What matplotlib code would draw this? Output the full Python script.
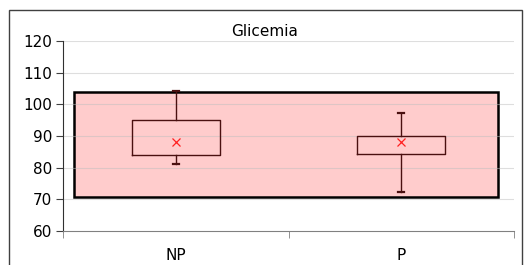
import matplotlib
matplotlib.use("Agg")
import matplotlib.pyplot as plt
from matplotlib.patches import Rectangle

categories = ["NP", "P"]
q1 = [84.0, 84.4]
q3 = [95.1, 90.0]
whislo = [81.1, 72.3]
whishi = [104.3, 97.2]
means = [88.2, 88.0]
ref_low = 70.6
ref_high = 104.0
yticks = [60, 70, 80, 90, 100, 110, 120]

plt.rcParams['font.family'] = ['DejaVu Sans']

fig = plt.figure(figsize=(5.24, 2.65), dpi=100)
ax = fig.add_axes([63/524, 34/265, 451/524, 190/265])

# outer chart border
fig.patches.append(Rectangle((9/524, -0.2), 513/524, 255/265 + 0.2,
                             transform=fig.transFigure, fill=False,
                             edgecolor='#404040', linewidth=1.0))

# reference range rectangle
ax.add_patch(Rectangle((-0.45, ref_low), 1.88, ref_high - ref_low,
                       facecolor='#ffcccc', edgecolor='black',
                       linewidth=1.8, zorder=1))

stats = []
for i, c in enumerate(categories):
    stats.append(dict(label=c, q1=q1[i], q3=q3[i], med=means[i],
                      whislo=whislo[i], whishi=whishi[i], mean=means[i],
                      fliers=[]))

box_col = '#4a1010'
ax.bxp(stats, positions=[0, 1], widths=0.39, showmeans=True,
       showfliers=False, patch_artist=False,
       boxprops=dict(color=box_col, linewidth=1.0),
       whiskerprops=dict(color=box_col, linewidth=1.0),
       capprops=dict(color=box_col, linewidth=1.6),
       capwidths=0.025,
       medianprops=dict(linewidth=0, color='none'),
       meanprops=dict(marker='x', markeredgecolor='#ff2020',
                      markersize=6, markeredgewidth=0.9),
       zorder=3)

ax.set_xlim(-0.5, 1.5)
ax.set_ylim(60, 120)
ax.set_yticks(yticks)
ax.set_yticklabels([str(v) for v in yticks], fontsize=11)
ax.set_xticks([0, 1])
ax.set_xticklabels(categories, fontsize=11)
ax.tick_params(axis='x', length=0, pad=12)
ax.set_xticks([-0.5, 0.5, 1.5], minor=True)
ax.tick_params(axis='x', which='minor', length=5, color='#808080')
ax.tick_params(axis='y', length=5, color='#404040', pad=3)

for v in yticks[1:]:
    ax.axhline(v, color='#bfbfbf', linewidth=0.8, alpha=0.5, zorder=2)

for s in ['top', 'right']:
    ax.spines[s].set_visible(False)
ax.spines['left'].set_color('#303030')
ax.spines['bottom'].set_color('#808080')

fig.text(265/524, 1 - 32/265, 'Glicemia', fontsize=11, ha='center', va='center')

fig.savefig('out.png', dpi=100)
